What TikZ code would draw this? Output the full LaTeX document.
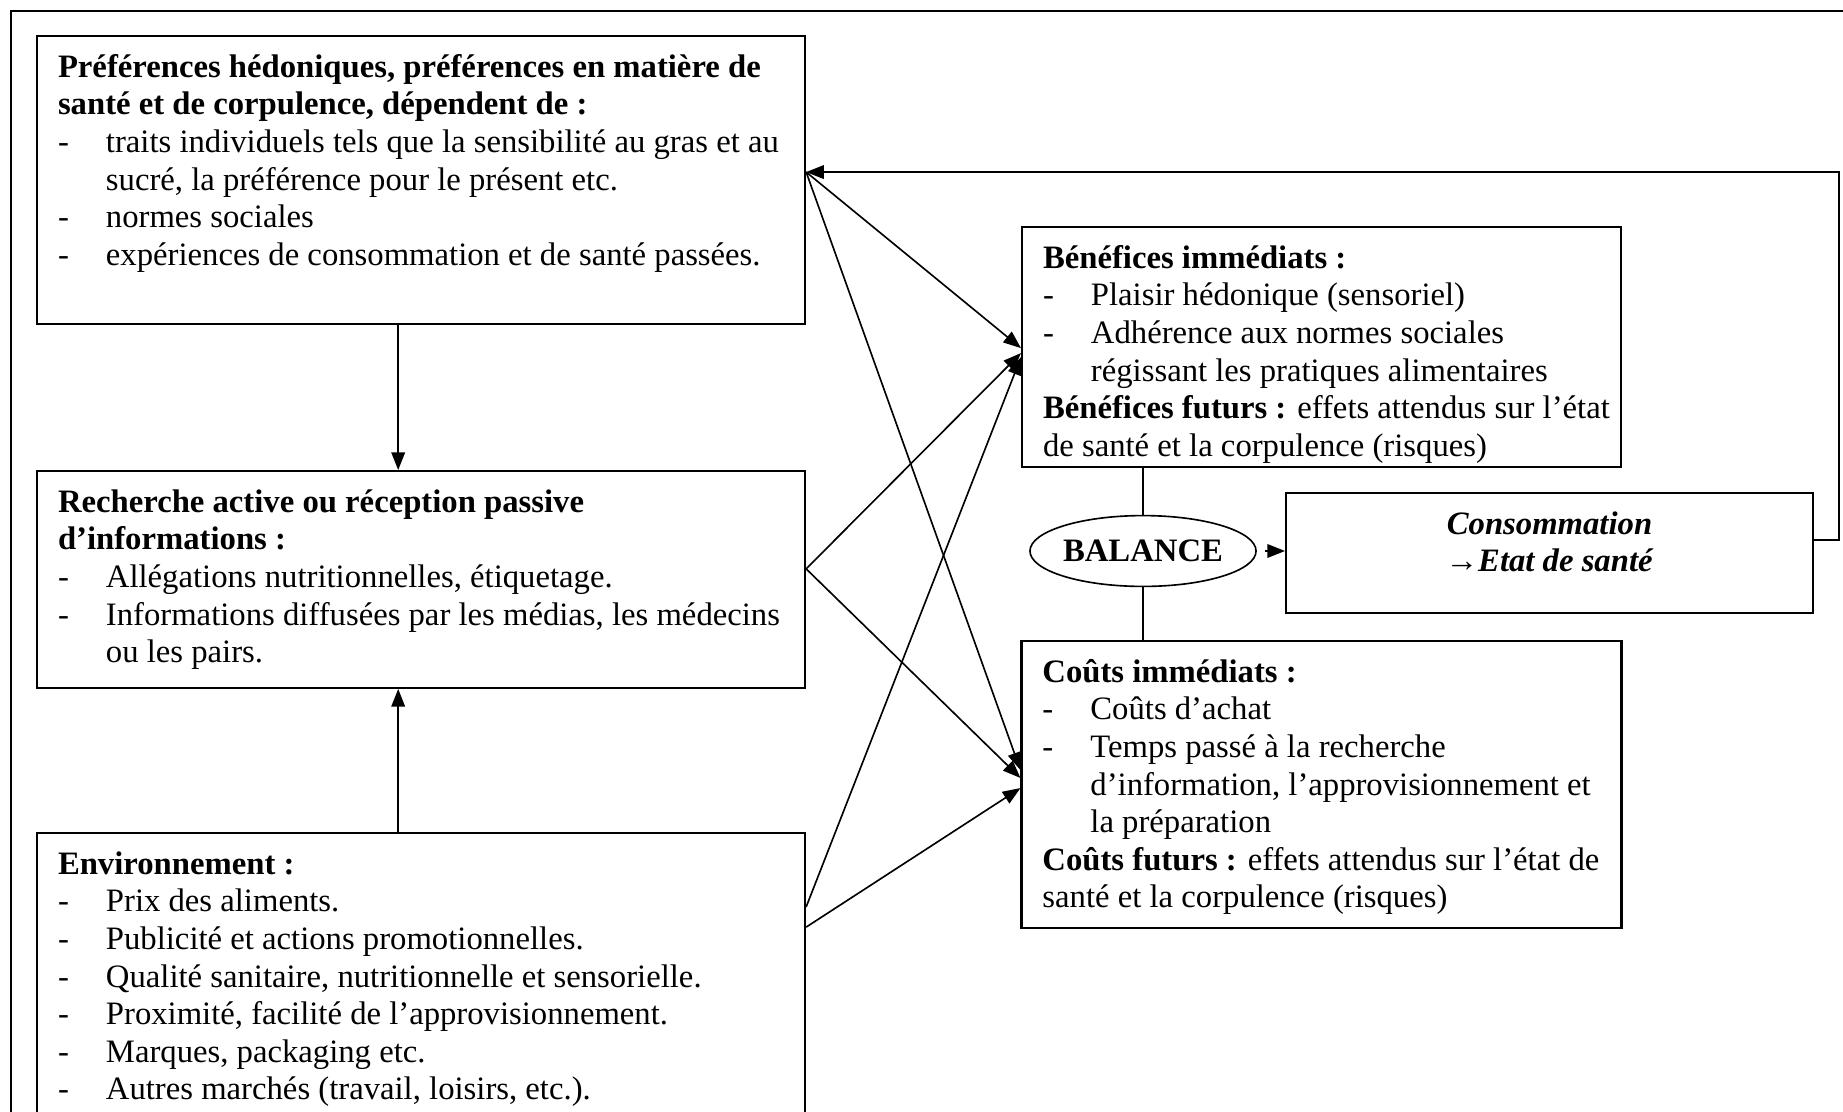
\documentclass[tikz,border=0pt]{standalone}
\usepackage{fontspec}
\setmainfont{Liberation Serif}
\usepackage{tikz}
\usetikzlibrary{arrows.meta, positioning, shapes.geometric}

\newcommand{\tiret}{\par\hangindent=17.6pt\hangafter=1\noindent\makebox[17.6pt][l]{-}}
\newcommand{\cadre}[3]{\makebox[#1][l]{\parbox[c][#2][t]{\dimexpr#1+20pt\relax}{\raggedright\strut #3}}}

\begin{document}
\begin{tikzpicture}[x=0.367pt, y=-0.367pt,
        boite/.style={rectangle, draw=black, line width=0.75pt, inner xsep=7.7pt, inner ysep=5.5pt, anchor=north west, font=\fontsize{12}{13.8}\selectfont},
        balanceshape/.style={ellipse, draw=black, line width=0.6pt, inner sep=0pt, minimum width=77pt, minimum height=26pt, font=\fontsize{12}{13.8}\selectfont\bfseries},
        fleche/.style={-{Triangle[length=6.5pt, width=5pt]}, line width=0.6pt},
        trait/.style={line width=0.6pt}
    ]
        \useasboundingbox (0,0) rectangle (1843,1111);
        \clip (0,0) rectangle (1843,1111);
        \draw[line width=0.75pt] (11,11) rectangle (1870,1140);

        % Boxes
        \node[boite] (pref) at (36,35) {\cadre{266.5pt}{94.7pt}{\textbf{Préférences hédoniques, préférences en matière de\newline santé et de corpulence, dépendent de~:}
            \tiret traits individuels tels que la sensibilité au gras et au\newline sucré, la préférence pour le présent etc.
            \tiret normes sociales
            \tiret expériences de consommation et de santé passées.}};
        \node[boite, below=53.2pt of pref] (info) {\cadre{266.5pt}{68.6pt}{\textbf{Recherche active ou réception passive\newline d’informations~:}
            \tiret Allégations nutritionnelles, étiquetage.
            \tiret Informations diffusées par les médias, les médecins\newline ou les pairs.}};
        \node[boite, below=52.5pt of info] (env) {\cadre{266.5pt}{99.8pt}{\textbf{Environnement~:}
            \tiret Prix des aliments.
            \tiret Publicité et actions promotionnelles.
            \tiret Qualité sanitaire, nutritionnelle et sensorielle.
            \tiret Proximité, facilité de l’approvisionnement.
            \tiret Marques, packaging etc.
            \tiret Autres marchés (travail, loisirs, etc.).}};
        \node[boite] (benef) at (1021,226) {\cadre{204.4pt}{77.1pt}{\textbf{Bénéfices immédiats~:}
            \tiret Plaisir hédonique (sensoriel)
            \tiret Adhérence aux normes sociales\newline régissant les pratiques alimentaires
            \par\textbf{Bénéfices futurs~:} effets attendus sur l’état\newline de santé et la corpulence (risques)}};
        \node[boite, below=63.1pt of benef] (couts) {\cadre{204.8pt}{94.3pt}{\textbf{Coûts immédiats~:}
            \tiret Coûts d’achat
            \tiret Temps passé à la recherche\newline d’information, l’approvisionnement et\newline la préparation
            \par\textbf{Coûts futurs~:} effets attendus sur l’état de\newline santé et la corpulence (risques)}};
        \node[balanceshape] (balance) at (1143,551) {BALANCE};
        \node[boite] (conso) at (1285,492) {\parbox[c][33pt][t]{178pt}{\centering\strut\textbf{\textit{Consommation\\ →Etat de santé}}}};

        % Arrows
        \coordinate (retour) at ([yshift=-50.3pt]pref.north east);
        \draw[fleche] ([xshift=-8.4pt]pref.south) -- ([xshift=-8.4pt]info.north);
        \draw[fleche] ([xshift=-8.4pt]env.north) -- ([xshift=-8.4pt]info.south);
        \draw[fleche] (retour) -- ([yshift=-0.4pt]benef.west);
        \draw[fleche] (retour) -- ([yshift=5.3pt]couts.west);
        \draw[fleche] ([yshift=3.9pt]info.east) -- ([yshift=-2.2pt]benef.west);
        \draw[fleche] ([yshift=3.9pt]info.east) -- ([yshift=2.4pt]couts.west);
        \draw[fleche] ([yshift=-27.5pt]env.north east) -- ([yshift=-3.7pt]benef.west);
        \draw[fleche] ([yshift=-34.9pt]env.north east) -- ([yshift=-1.3pt]couts.west);
        \draw[trait] (balance.north) -- (balance.north |- benef.south);
        \draw[trait] (balance.south) -- (balance.south |- couts.north);
        \draw[fleche, shorten <=2.9pt] (balance.east) -- (conso.west |- balance.east);
        \draw[fleche] ([yshift=4.8pt]conso.east) -- ++(25,0) |- (retour);
    \end{tikzpicture}
\end{document}
